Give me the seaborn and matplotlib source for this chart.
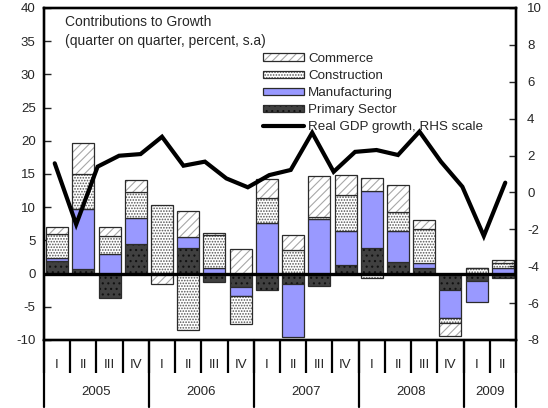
import numpy as np
import pandas as pd
import matplotlib
matplotlib.use("Agg")
import matplotlib.pyplot as plt
from matplotlib.patches import Patch
from matplotlib.lines import Line2D
import seaborn as sns

# quarters shown on the x axis
years = ["2005", "2006", "2007", "2008", "2009"]
quarters_per_year = [4, 4, 4, 4, 2]
quarter_names = ["I", "II", "III", "IV"]

# contributions to growth, percentage points (left scale)
primary = [1.9, 0.7, -3.7, 4.4, 0.0, 3.8, -1.2, -2.0, -2.5, -1.5, -1.8, 1.3, 3.9, 1.8, 0.8, -2.4, -1.1, -0.7]
manufacturing = [0.4, 9.0, 3.0, 3.9, 0.0, 1.65, 0.9, -1.35, 7.65, -8.1, 8.15, 5.15, 8.6, 4.55, 0.8, -4.35, -3.25, 0.8]
construction = [3.7, 5.3, 2.65, 4.0, 10.3, -8.55, 4.9, -4.25, 3.75, 3.55, 0.3, 5.35, -0.7, 3.0, 5.1, -0.75, 0.8, 0.8]
commerce = [1.0, 4.7, 1.4, 1.8, -1.6, 4.0, 0.3, 3.7, 2.8, 2.25, 6.3, 3.1, 1.9, 3.95, 1.35, -1.9, 0.0, 0.4]

# real GDP growth, RHS scale (this series sits on its own category axis)
gdp = [1.58, -1.73, 1.4, 1.99, 2.08, 3.02, 1.45, 1.67, 0.76, 0.28, 0.94,
       1.22, 3.24, 1.12, 2.2, 2.3, 2.03, 3.3, 1.67, 0.31, -2.36, 0.53]

periods = []
quarter_labels = []
for y, n in zip(years, quarters_per_year):
    for q in quarter_names[:n]:
        periods.append(y + " " + q)
        quarter_labels.append(q)
n_per = len(periods)

sns.set_style("ticks")
plt.rcParams["font.family"] = ["Liberation Sans", "DejaVu Sans"]
plt.rcParams["axes.unicode_minus"] = False
plt.rcParams["hatch.linewidth"] = 0.8
edge_dark = "#2b2b2b"

# name, values, face colour, hatch, hatch colour
sectors = [
    ("Primary Sector", primary, "#404040", "...", "#111111"),
    ("Manufacturing", manufacturing, "#9999ff", "", "#9999ff"),
    ("Construction", construction, "white", "......", "#555555"),
    ("Commerce", commerce, "white", "////", "#a8a8a8"),
]

fig = plt.figure(figsize=(5.48, 4.08), dpi=100)
ax = fig.add_axes([44 / 548, 68 / 408, 472 / 548, 332 / 408])

pos_base = np.zeros(n_per)
neg_base = np.zeros(n_per)
handles = {}
for name, vals, face, hatch, hcol in sectors:
    v = np.array(vals, dtype=float)
    base = np.where(v >= 0, pos_base, neg_base)
    df = pd.DataFrame({"period": periods, "value": v})
    # fill + hatch layer
    sns.barplot(data=df, x="period", y="value", order=periods, bottom=base,
                width=0.84, color=face, saturation=1, errorbar=None,
                hatch=hatch, edgecolor=hcol, linewidth=0, ax=ax)
    # outline layer
    sns.barplot(data=df, x="period", y="value", order=periods, bottom=base,
                width=0.84, color=edge_dark, fill=False, errorbar=None,
                linewidth=0.9, ax=ax)
    pos_base += np.where(v > 0, v, 0)
    neg_base += np.where(v < 0, v, 0)
    handles[name] = (Patch(facecolor=face, hatch=hatch, edgecolor=hcol, linewidth=0),
                     Patch(facecolor="none", edgecolor=edge_dark, linewidth=0.9))

ax.axhline(0, color="black", lw=2.4, zorder=3)
ax.set_xlim(-0.5, n_per - 0.5)
ax.set_ylim(-10, 40)
ax.set_yticks(np.arange(-10, 41, 5))
ax.set_xlabel("")
ax.set_ylabel("")
ax.tick_params(axis="y", direction="in", length=5, width=1, pad=6, labelsize=9.5)
ax.set_xticks(range(n_per))
ax.set_xticklabels(quarter_labels)
ax.tick_params(axis="x", which="major", length=0, pad=14, labelsize=9.5)
ax.set_xticks(np.arange(-0.5, n_per), minor=True)
ax.tick_params(axis="x", which="minor", direction="out", length=24, width=1.6, color="black")

# year separators and year labels under the quarters
xt = ax.get_xaxis_transform()
start = -0.5
ax.plot([start, start], [0, -0.202], transform=xt, color="black", lw=1.6, clip_on=False)
for y, n in zip(years, quarters_per_year):
    end = start + n
    ax.plot([end, end], [0, -0.202], transform=xt, color="black", lw=1.6, clip_on=False)
    ax.text((start + end) / 2, -0.157, y, transform=xt, ha="center", va="center", fontsize=9.5)
    start = end

# right axis with the GDP line on its own category scale
ax2 = ax.twinx()
ax3 = ax2.twiny()
sns.lineplot(x=np.arange(len(gdp)), y=gdp, ax=ax3, color="black", linewidth=3,
             solid_joinstyle="miter")
ax3.set_xlim(-0.5, len(gdp) - 0.5)
ax3.set_xticks([])
ax2.set_ylim(-8, 10)
ax2.set_yticks(np.arange(-8, 11, 2))
ax2.tick_params(axis="y", direction="in", length=5, width=1, pad=8, labelsize=9.5)

for a in (ax, ax2, ax3):
    for s in a.spines.values():
        s.set_visible(True)
        s.set_linewidth(1.6)
        s.set_color("black")

fig.text(65 / 548, 1 - 15 / 408,
         "Contributions to Growth\n(quarter on quarter, percent, s.a)",
         ha="left", va="top", fontsize=10, linespacing=1.5)

leg_handles = [handles["Commerce"], handles["Construction"], handles["Manufacturing"],
               handles["Primary Sector"], Line2D([], [], color="black", lw=3)]
leg_labels = ["Commerce", "Construction", "Manufacturing", "Primary Sector",
              "Real GDP growth, RHS scale"]
ax3.legend(leg_handles, leg_labels, loc="upper left",
           bbox_to_anchor=(263 / 548, 1 - 53 / 408), bbox_transform=fig.transFigure,
           frameon=False, fontsize=9.6, borderpad=0, borderaxespad=0,
           handlelength=3.1, handleheight=0.5, handletextpad=0.3, labelspacing=0.38)

fig.savefig("out.png", dpi=100)
